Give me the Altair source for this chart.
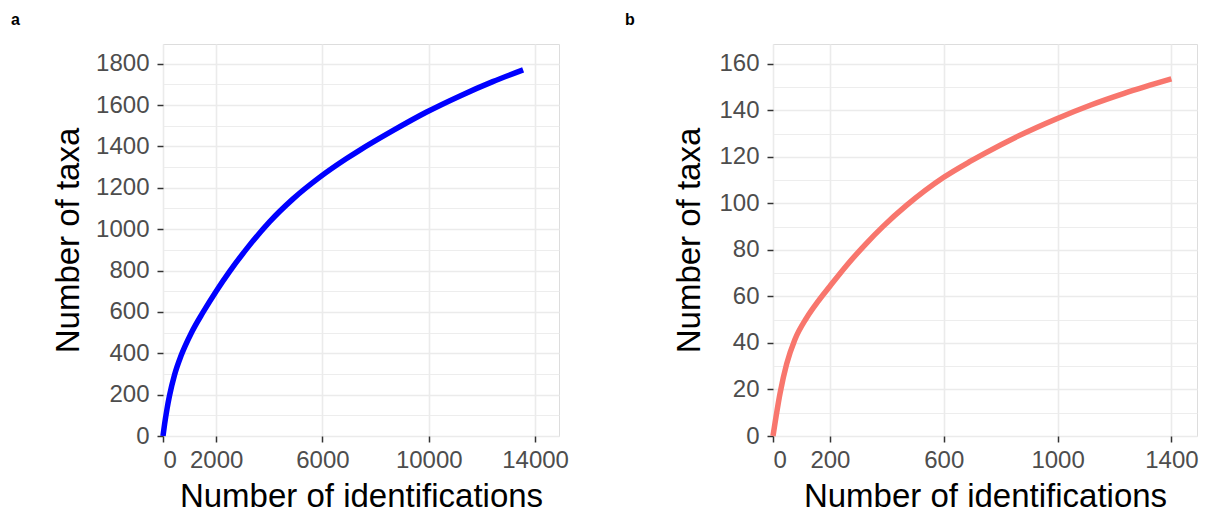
import altair as alt
import pandas as pd

# Panel a: rarefaction curve across all identifications
ids_a = [0, 60, 150, 245, 433, 685, 1061, 1497, 2001, 2502, 3130, 4007, 4883,
         5888, 6892, 7393, 8646, 9902, 11155, 12408, 13550]
taxa_a = [0, 57, 130, 195, 295, 390, 497, 596, 700, 795, 902, 1035, 1145,
          1250, 1340, 1381, 1476, 1565, 1643, 1713, 1770]

# Panel b: rarefaction curve for the smaller subset
ids_b = [0, 25, 48, 77, 118, 159, 200, 258, 325, 387, 469, 600, 691, 744,
         861, 995, 1117, 1234, 1400]
taxa_b = [0, 18.5, 31, 41.5, 50.8, 58, 64.4, 73.2, 82.4, 90.1, 99.1, 111.2,
          117.9, 121.5, 128.9, 136.3, 142.3, 147.3, 153.5]

x_ticks_a = [0, 2000, 6000, 10000, 14000]
y_ticks_a = list(range(0, 1900, 100))
x_ticks_b = [0, 200, 600, 1000, 1400]
y_ticks_b = list(range(0, 170, 10))

FONT = "Liberation Sans"
GRID = "#EBEBEB"
DARK = "#333333"


def y_axis(values, major_step, title_pad):
    major = f"datum.value % {major_step} === 0"
    return alt.Axis(
        values=values,
        title="Number of taxa",
        format="d",
        labelExpr=f"{major} ? datum.label : ''",
        grid=True,
        gridColor=GRID,
        gridWidth={"condition": {"test": major, "value": 1.6}, "value": 0.9},
        tickSize={"condition": {"test": major, "value": 6}, "value": 0},
        tickColor=DARK,
        tickWidth=1.5,
        domain=False,
        labelFont=FONT,
        labelFontSize=24,
        labelColor="#4D4D4D",
        labelPadding=8,
        titleFont=FONT,
        titleFontSize=33,
        titleFontWeight="normal",
        titleColor="black",
        titlePadding=title_pad,
    )


def x_axis(values):
    return alt.Axis(
        values=values,
        title="Number of identifications",
        format="d",
        grid=True,
        gridColor=GRID,
        gridWidth=1.6,
        tickSize=6,
        tickColor=DARK,
        tickWidth=1.5,
        domain=False,
        labelFont=FONT,
        labelFontSize=24,
        labelColor="#4D4D4D",
        labelPadding=6,
        labelOverlap=False,
        titleFont=FONT,
        titleFontSize=33,
        titleFontWeight="normal",
        titleColor="black",
        titlePadding=8,
    )


def panel(ids, taxa, color, xmax, ymax, xt, yt, ystep, w, label, dx, title_pad):
    df = pd.DataFrame({"ids": ids, "taxa": taxa})
    return (
        alt.Chart(df)
        .mark_line(color=color, strokeWidth=5.5, interpolate="monotone")
        .encode(
            x=alt.X("ids:Q", scale=alt.Scale(domain=[0, xmax], nice=False, zero=True),
                    axis=x_axis(xt)),
            y=alt.Y("taxa:Q", scale=alt.Scale(domain=[0, ymax], nice=False),
                    axis=y_axis(yt, ystep, title_pad)),
        )
        .properties(
            width=w,
            height=392,
            title=alt.TitleParams(
                text=label, anchor="start", frame="group", dx=dx, offset=16,
                font=FONT, fontSize=16, fontWeight="bold", color="black",
            ),
        )
    )


chart_a = panel(ids_a, taxa_a, "#0000FF", 14900, 1895, x_ticks_a, y_ticks_a, 200,
                396, "a", -152, 10)
chart_b = panel(ids_b, taxa_b, "#F8766D", 1490, 168.5, x_ticks_b, y_ticks_b, 20,
                424, "b", -148, 12)

chart = (
    alt.hconcat(chart_a, chart_b, spacing=55)
    .properties(padding={"left": 10, "top": 11, "right": 5, "bottom": 5})
    .configure_view(stroke=DARK, strokeWidth=1.6)
    .configure(background="white")
)

chart.save("out.html", embed_options={"renderer": "svg", "actions": False})
